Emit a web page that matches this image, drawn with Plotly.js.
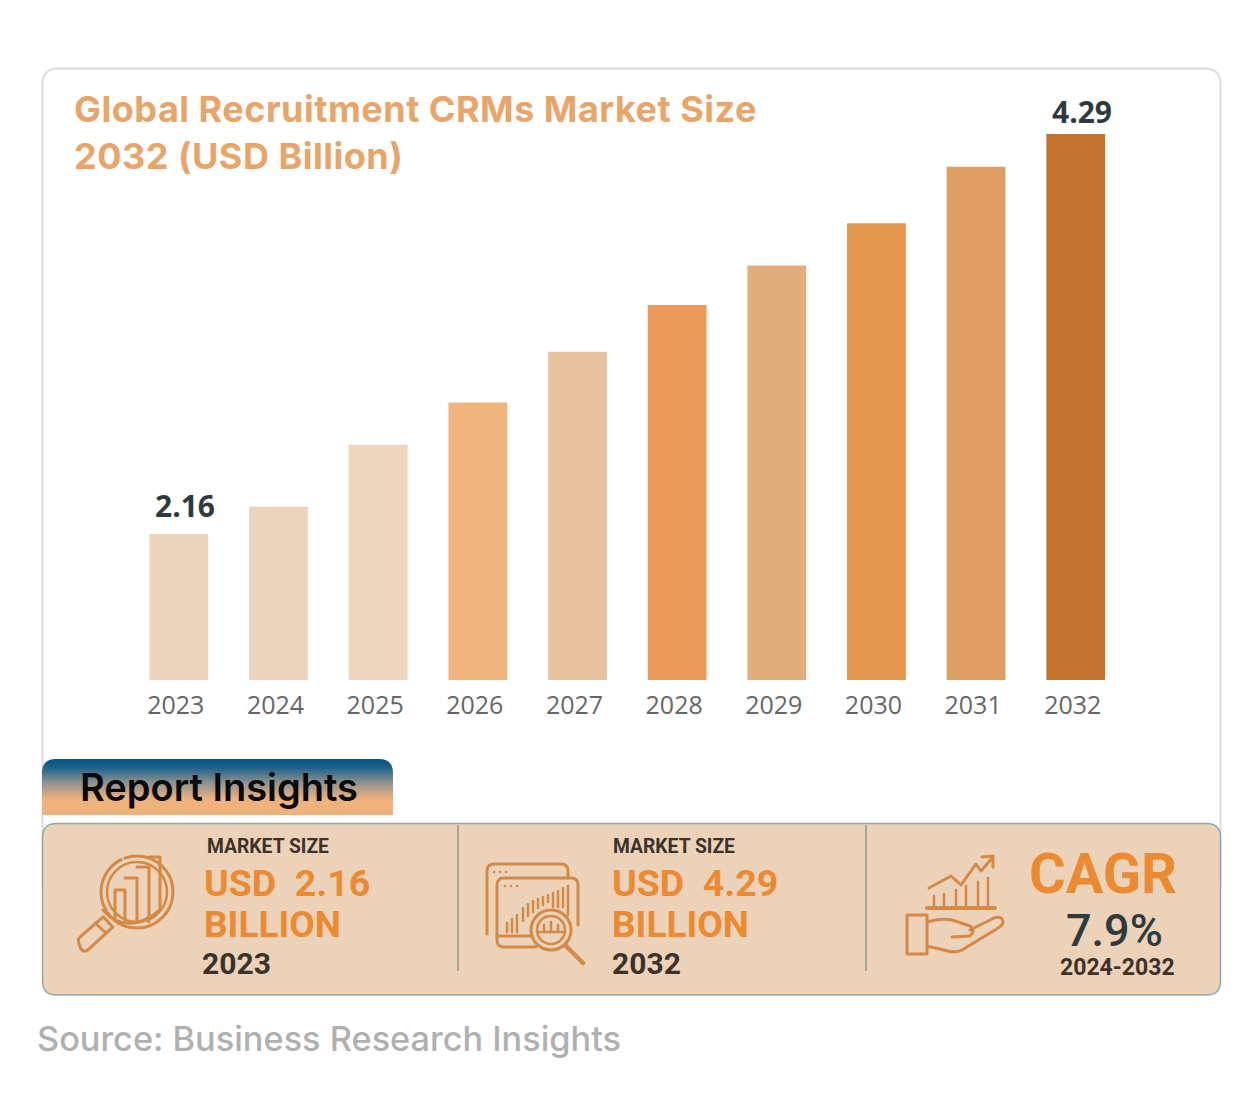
<!DOCTYPE html>
<html><head><meta charset="utf-8">
<script src="https://cdn.plot.ly/plotly-3.0.1.min.js"></script>
<style>html,body{margin:0;padding:0;background:#fff}#c{width:1260px;height:1120px}.gtitle{letter-spacing:.5px}</style>
</head><body><div id="c"></div>
<script>
const years=['2023','2024','2025','2026','2027','2028','2029','2030','2031','2032'];
const marketSize=[2.16,2.305,2.635,2.86,3.13,3.38,3.59,3.815,4.115,4.29];
const barColors=['#edd4bd','#edd4bd','#edd6c0','#f0b57f','#e9c3a0','#ea9b5b','#e1ad7d','#e4974f','#df9e63','#c3742e'];
const labelYears=['2023','2032'];
const labelTexts=['2.16','4.29'];
const labelValues=[2.16,4.29];
const W=1260,H=1120;
const px=v=>v/W, py=v=>1-v/H;
const rr=(x0,y0,x1,y1,r)=>`M${px(x0+r)},${py(y0)}L${px(x1-r)},${py(y0)}Q${px(x1)},${py(y0)} ${px(x1)},${py(y0+r)}L${px(x1)},${py(y1-r)}Q${px(x1)},${py(y1)} ${px(x1-r)},${py(y1)}L${px(x0+r)},${py(y1)}Q${px(x0)},${py(y1)} ${px(x0)},${py(y1-r)}L${px(x0)},${py(y0+r)}Q${px(x0)},${py(y0)} ${px(x0+r)},${py(y0)}Z`;
const path=(d,fill,lc,lw)=>({type:'path',xref:'paper',yref:'paper',path:d,fillcolor:fill,line:{color:lc,width:lw},layer:'below'});
const vline=(x,y0,y1,c,w)=>({type:'line',xref:'paper',yref:'paper',x0:px(x),x1:px(x),y0:py(y0),y1:py(y1),line:{color:c,width:w},layer:'below'});
const svgImg=(inner,vw,vh,x,y)=>({source:'data:image/svg+xml;charset=utf-8,'+encodeURIComponent(`<svg xmlns="http://www.w3.org/2000/svg" width="${vw}" height="${vh}" viewBox="0 0 ${vw} ${vh}">${inner}</svg>`),xref:'paper',yref:'paper',x:px(x),y:py(y),sizex:vw/W,sizey:vh/H,xanchor:'left',yanchor:'top',sizing:'stretch',layer:'above'});
const IC='#d48945';
const g=s=>`<g fill="none" stroke="${IC}" stroke-width="3" stroke-linejoin="round" stroke-linecap="round">${s}</g>`;
const tab=svgImg(`<defs><linearGradient id="t" x1="0" y1="0" x2="0" y2="1"><stop offset="0" stop-color="#07568a"/><stop offset=".16" stop-color="#1f6288"/><stop offset=".42" stop-color="#8d9290"/><stop offset=".72" stop-color="#f0b27c"/><stop offset="1" stop-color="#f0b27c"/></linearGradient></defs><path d="M0 56V14Q0 0 14 0H337Q351 0 351 14V56Z" fill="url(#t)"/>`,351,56,42,759);
const icon1=svgImg(g(`<circle cx="65" cy="42" r="36" stroke-dasharray="90 3 60 4"/><circle cx="65" cy="42" r="30" stroke-width="2.5"/><path d="M43 70V40H53V70M53 28H65V72M65 17H77V72M77 7H88V60M43 70Q65 80 88 60"/><path d="M40.7 77.1L15.7 100.1Q11 103 8 97L6.3 91Q6 89 8 87L31.3 66.9ZM34 83L23 73M38 67L31 60" />`),110,110,72,850);
const icon2=svgImg(g(`<path d="M7 79V16Q7 9 14 9H81Q88 9 88 16V23"/><path d="M17 78V30Q17 23 24 23H91Q98 23 98 30V70M17 78V85Q17 92 24 92H56"/><path d="M17 81H52"/><path d="M27 77V68M32 77V64M37 77V60M43 66V53M48 61V49M53 57V46M58 53V44M63 50V42M68 47V40M73 52V38M78 52V36M83 52V33M88 60V31" stroke-width="2.5"/><circle cx="71" cy="75" r="20"/><circle cx="71" cy="75" r="14" stroke-width="2.5"/><path d="M58 77H84M64 70V76M71 67V76M78 70V76" stroke-width="2.5"/><path d="M85 90L103 108" stroke-width="4.5"/><path d="M14 17h.1M20 17h.1M26 17h.1M25 31h.1M31 31h.1M37 31h.1" stroke-width="2.5"/>`),110,115,480,855);
const icon3=svgImg(g(`<path d="M27 58H95" stroke-width="4"/><path d="M34 56V46M44 56V44M56 56V40M66 56V36M78 56V32M88 56V28" stroke-width="2.5"/><path d="M29 38L51 26L61 35L76 14L81 21L93 7M82 7L93 6V17"/><path d="M7 65H27V104H7ZM27 72Q40 68 52 70L70 76Q76 80 70 86L52 87M70 80L94 68Q103 65 103 73Q102 76 95 80L62 100Q56 103 48 101L27 96"/>`),110,110,900,850);
const ann=(t,x,y,size,color,family,weight,anchor)=>({text:t,x:px(x),y:py(y),xref:'paper',yref:'paper',xanchor:anchor||'left',yanchor:'middle',showarrow:false,font:{family:family,size:size,color:color,weight:weight||400}});
const POP='Inter, "Open Sans", sans-serif', ROB='Roboto, sans-serif';
const OR='#ec8a32', DK='#3d3229';
const data=[{type:'bar',x:years,y:marketSize,width:0.59,marker:{color:barColors,line:{width:0}},hoverinfo:'x+y'}];
const barNotes=labelYears.map((yr,i)=>({x:years.indexOf(yr),y:labelValues[i],xref:'x',yref:'y',text:labelTexts[i],showarrow:false,yanchor:'middle',xanchor:'center',xshift:6,yshift:i===0?29:23,font:{family:'"Open Sans", sans-serif',size:30,color:'#2f3a3d',weight:700}}));
const layout={width:W,height:H,margin:{l:0,r:0,t:0,b:0},paper_bgcolor:'#fff',plot_bgcolor:'rgba(0,0,0,0)',showlegend:false,bargap:0.41,
 title:{text:'Global Recruitment CRMs Market Size<br>2032 (USD Billion)',x:74/W,xanchor:'left',xref:'paper',y:1-122/H,yanchor:'top',yref:'container',font:{family:POP,size:36,color:'#e9a469',weight:700}},
 xaxis:{domain:[129/W,1125.6/W],type:'category',range:[-0.5,9.5],showgrid:false,zeroline:false,showline:false,ticks:'',ticklabelshift:-3,ticklabelstandoff:8,tickfont:{family:'"Open Sans", sans-serif',size:25,color:'#666'}},
 yaxis:{domain:[1-680/H,1-100/H],range:[1.383,4.471],visible:false,showgrid:false,zeroline:false},
 shapes:[
  path(rr(42.5,68.5,1220.5,900,16),'#fff','#dcdcdc',2),
  path(rr(42.5,823.5,1220.5,995,14),'#ecd2b8','#8fa9b0',1.5),
  vline(458,825,971,'#a8a69c',2), vline(866,825,971,'#a8a69c',2)],
 images:[tab,icon1,icon2,icon3],
 annotations:barNotes.concat([
  ann('Report Insights',78,787,38,'#0a0a0a',POP,600),
  ann('MARKET SIZE',205,846,19.3,DK,ROB,700),
  ann('USD  2.16',202,883,37.5,OR,ROB,700),
  ann('BILLION',202,924,37,OR,ROB,700),
  ann('2023',200,963,30,DK,ROB,700),
  ann('MARKET SIZE',611,846,19.3,DK,ROB,700),
  ann('USD  4.29',610,883,37.5,OR,ROB,700),
  ann('BILLION',610,924,37,OR,ROB,700),
  ann('2032',610,963,30,DK,ROB,700),
  ann('CAGR',1103,874,56,OR,ROB,700,'center'),
  ann('7.9%',1114,930,45,'#2f3a3d',ROB,500,'center'),
  ann('2024-2032',1117,967,23,DK,ROB,700,'center'),
  ann('Source: Business Research Insights',35,1038,34.3,'#b0b0b0',POP,500)
 ])};
Plotly.newPlot('c',data,layout,{displayModeBar:false,staticPlot:true});
</script></body></html>
